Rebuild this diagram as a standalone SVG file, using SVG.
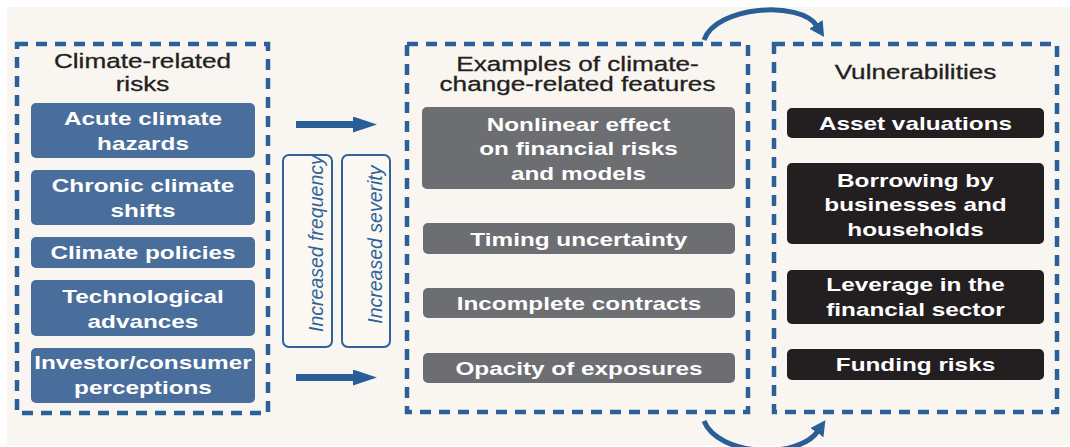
<svg xmlns="http://www.w3.org/2000/svg" width="1070" height="447" viewBox="0 0 1070 447">
<style>
  text { font-family: "Liberation Sans", Arial, sans-serif; text-anchor: middle; transform-box: fill-box; transform-origin: center; }
  .ttl { font-size: 19.5px; fill: #231f20; stroke: #231f20; stroke-width: 0.3; transform: scaleX(1.34); }
  .wt { font-size: 19px; font-weight: bold; fill: #ffffff; transform: scaleX(1.28); }
  .rot { font-size: 19.5px; font-style: italic; fill: #2f6398; }
  .dash { fill: none; stroke: #2b6198; stroke-width: 4.5; stroke-dasharray: 11 8; }
  .blue { fill: #4a6e9c; }
  .gray { fill: #6d6e71; }
  .blk { fill: #231f20; }
  .tag { fill: #fbf8f4; stroke: #2f6398; stroke-width: 2; }
  .conn { fill: none; stroke: #2a5e96; }
</style>
<defs>
  <marker id="headS" markerUnits="userSpaceOnUse" markerWidth="26" markerHeight="18" refX="2" refY="8" orient="auto">
    <path d="M0,0 L24,8 L0,16 z" fill="#2a5e96"/>
  </marker>
  <marker id="headC" markerUnits="userSpaceOnUse" markerWidth="18" markerHeight="18" refX="2" refY="8" orient="auto">
    <path d="M0,0 L15,8 L0,16 z" fill="#2a5e96"/>
  </marker>
</defs>
<rect x="0" y="0" width="1070" height="447" fill="#ffffff"/>
<rect x="7" y="7" width="1063" height="438" fill="#f9f6f1"/>

<g id="risks">
  <rect class="dash" x="17" y="44" width="251" height="369"/>
  <text class="ttl" x="142.5" y="68">Climate-related</text>
  <text class="ttl" x="142.5" y="91">risks</text>
</g>
<g id="acute">
  <rect class="blue" x="31" y="103" width="224" height="55" rx="5"/>
  <text class="wt" x="143" y="125">Acute climate</text>
  <text class="wt" x="143" y="150">hazards</text>
</g>
<g id="chronic">
  <rect class="blue" x="31" y="170" width="224" height="55" rx="5"/>
  <text class="wt" x="143" y="192">Chronic climate</text>
  <text class="wt" x="143" y="217">shifts</text>
</g>
<g id="policies">
  <rect class="blue" x="31" y="237" width="224" height="31" rx="5"/>
  <text class="wt" x="143" y="259">Climate policies</text>
</g>
<g id="tech">
  <rect class="blue" x="31" y="280" width="224" height="56" rx="5"/>
  <text class="wt" x="143" y="303">Technological</text>
  <text class="wt" x="143" y="328">advances</text>
</g>
<g id="investor">
  <rect class="blue" x="31" y="348" width="224" height="55" rx="5"/>
  <text class="wt" x="143" y="369">Investor/consumer</text>
  <text class="wt" x="143" y="394">perceptions</text>
</g>

<g id="frequency">
  <rect class="tag" x="283" y="155" width="49" height="192" rx="6"/>
  <text class="rot" transform="translate(315,250) rotate(-90)" x="0" y="0">Increased frequency</text>
</g>
<g id="severity">
  <rect class="tag" x="342" y="155" width="48" height="192" rx="6"/>
  <text class="rot" transform="translate(374,251) rotate(-90)" x="0" y="0">Increased severity</text>
</g>

<g id="features">
  <rect class="dash" x="407" y="44" width="341" height="368"/>
  <text class="ttl" x="577.5" y="71">Examples of climate-</text>
  <text class="ttl" x="577.5" y="91">change-related features</text>
</g>
<g id="nonlinear">
  <rect class="gray" x="422" y="107" width="313" height="82" rx="5"/>
  <text class="wt" x="578.5" y="131">Nonlinear effect</text>
  <text class="wt" x="578.5" y="155">on financial risks</text>
  <text class="wt" x="578.5" y="180">and models</text>
</g>
<g id="timing">
  <rect class="gray" x="423" y="223" width="312" height="31" rx="5"/>
  <text class="wt" x="579" y="246">Timing uncertainty</text>
</g>
<g id="contracts">
  <rect class="gray" x="423" y="288" width="312" height="30" rx="5"/>
  <text class="wt" x="579" y="310">Incomplete contracts</text>
</g>
<g id="opacity">
  <rect class="gray" x="423" y="353" width="312" height="30" rx="5"/>
  <text class="wt" x="579" y="375">Opacity of exposures</text>
</g>

<g id="vulnerabilities">
  <rect class="dash" x="774" y="44" width="283" height="368"/>
  <text class="ttl" x="915.5" y="79">Vulnerabilities</text>
</g>
<g id="asset">
  <rect class="blk" x="787" y="108" width="257" height="30" rx="5"/>
  <text class="wt" x="915.5" y="130">Asset valuations</text>
</g>
<g id="borrowing">
  <rect class="blk" x="787" y="163" width="257" height="81" rx="5"/>
  <text class="wt" x="915.5" y="187">Borrowing by</text>
  <text class="wt" x="915.5" y="211">businesses and</text>
  <text class="wt" x="915.5" y="236">households</text>
</g>
<g id="leverage">
  <rect class="blk" x="787" y="270" width="257" height="54" rx="5"/>
  <text class="wt" x="915.5" y="291">Leverage in the</text>
  <text class="wt" x="915.5" y="316">financial sector</text>
</g>
<g id="funding">
  <rect class="blk" x="787" y="349" width="257" height="31" rx="5"/>
  <text class="wt" x="915.5" y="371">Funding risks</text>
</g>

<g id="connectors">
  <path class="conn" d="M296,124.5 H355" stroke-width="7" marker-end="url(#headS)"/>
  <path class="conn" d="M296,377.5 H355" stroke-width="7" marker-end="url(#headS)"/>
  <path class="conn" d="M704,40 C716,6 800,0 817,26" stroke-width="5" marker-end="url(#headC)"/>
  <path class="conn" d="M704,421 C718,456 798,460 818,431" stroke-width="5" marker-end="url(#headC)"/>
</g>
</svg>
